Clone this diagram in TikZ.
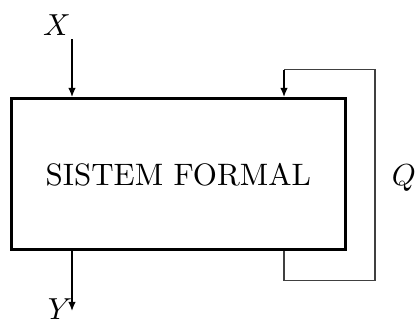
\documentclass[tikz,border=0pt]{standalone}
\usetikzlibrary{arrows.meta}
\begin{document}
\begin{tikzpicture}[x=0.329pt,y=-0.329pt,
  sysbox/.style={draw,line width=1pt,minimum width=110pt,minimum height=49.8pt,inner sep=0pt,font=\fontsize{10.2pt}{12pt}\selectfont},
  sigarrow/.style={line width=0.5pt,-{Latex[length=3pt,width=2.5pt]}},
  fbline/.style={line width=0.4pt,draw=black!75},
  lbl/.style={inner sep=0pt}]
\useasboundingbox (0,0) rectangle (415,323);
\node[sysbox] (box) at (178.25,174.25) {SISTEM FORMAL};
\node[lbl] (xl) at (57,25) {$X$};
\node[lbl] (yl) at (60,309.5) {$Y$};
\node[lbl] (ql) at (404,178) {$Q$};
\coordinate (xin) at (72,39);
\coordinate (yout) at (72,311);
\coordinate (fbA) at (284,280.7);
\coordinate (fbB) at (375,280.7);
\coordinate (fbC) at (375,69.5);
\coordinate (fbD) at (284,69.5);
\draw[sigarrow] (xin) -- (xin |- box.north);
\draw[sigarrow] (yout |- box.south) -- (yout);
\draw[fbline] (fbA |- box.south) -- (fbA) -- (fbB) -- (fbC) -- (fbD);
\draw[sigarrow] (fbD) -- (fbD |- box.north);
\end{tikzpicture}
\end{document}
